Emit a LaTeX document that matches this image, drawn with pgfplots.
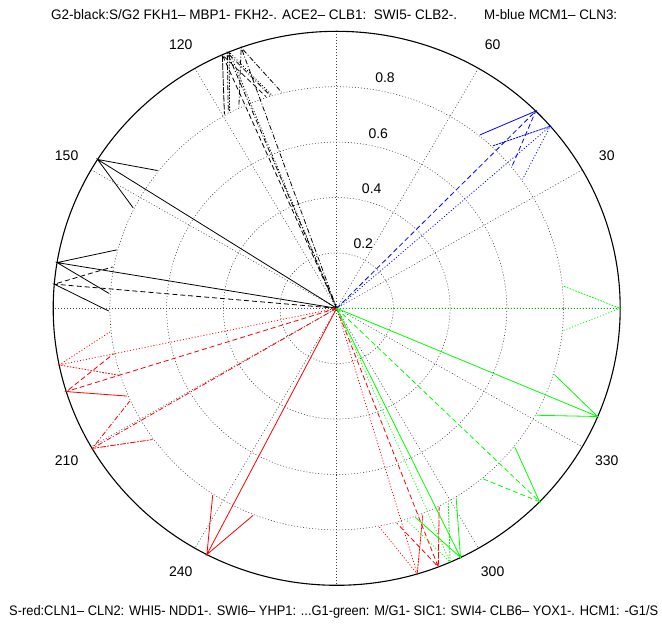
\documentclass[border=0pt]{standalone}
\usepackage{pgfplots}
\pgfplotsset{compat=1.18}
\usepackage{fontspec}
\setmainfont{Liberation Sans}
\definecolor{mgreen}{rgb}{0,1,0}
\definecolor{mblue}{rgb}{0,0,1}
\definecolor{mred}{rgb}{1,0,0}
\tikzset{
  sol/.style={line width=0.8pt},
  dsh/.style={line width=0.8pt,dash pattern=on 5pt off 3pt},
  dot/.style={line width=0.8pt,dash pattern=on 1pt off 2pt},
  dsd/.style={line width=0.8pt,dash pattern=on 5pt off 2pt on 1pt off 2pt},
  grd/.style={black!75,line width=0.55pt,dash pattern=on 1pt off 2pt},
  lbl/.style={font=\fontsize{14}{14}\selectfont,inner sep=0pt}
}
\begin{document}
\begin{tikzpicture}[x=1pt,y=1pt]
\useasboundingbox (0,0) rectangle (662,624);
\begin{axis}[at={(53.2pt,38.7pt)},anchor=south west,scale only axis,
  width=567pt,height=554pt,xmin=-1,xmax=1,ymin=-1,ymax=1,hide axis,clip=false]
% grid
\draw[grd] (axis cs:0,0) ellipse [x radius=0.2,y radius=0.2];
\draw[grd] (axis cs:0,0) ellipse [x radius=0.4,y radius=0.4];
\draw[grd] (axis cs:0,0) ellipse [x radius=0.6,y radius=0.6];
\draw[grd] (axis cs:0,0) ellipse [x radius=0.8,y radius=0.8];
\draw[grd] (axis cs:0.8660,0.5) -- (axis cs:-0.8660,-0.5);
\draw[grd] (axis cs:0.5,0.8660) -- (axis cs:-0.5,-0.8660);
\draw[grd] (axis cs:0,1) -- (axis cs:0,-1);
\draw[grd] (axis cs:-0.5,0.8660) -- (axis cs:0.5,-0.8660);
\draw[grd] (axis cs:-0.8660,0.5) -- (axis cs:0.8660,-0.5);
\draw[grd] (axis cs:1,0) -- (axis cs:-1,0);
\draw[black,line width=1.1pt] (axis cs:0,0) ellipse [x radius=1,y radius=1];
% labels
\node[lbl] at (axis cs:0.9526,0.55) {30};
\node[lbl] at (axis cs:0.55,0.9526) {60};
\node[lbl] at (axis cs:-0.55,0.9526) {120};
\node[lbl] at (axis cs:-0.9526,0.55) {150};
\node[lbl] at (axis cs:-0.9526,-0.55) {210};
\node[lbl] at (axis cs:-0.55,-0.9526) {240};
\node[lbl] at (axis cs:0.55,-0.9526) {300};
\node[lbl] at (axis cs:0.9526,-0.55) {330};
\node[lbl] at (axis cs:0.0938,0.2321) {0.2};
\node[lbl] at (axis cs:0.1235,0.4332) {0.4};
\node[lbl] at (axis cs:0.1467,0.6318) {0.6};
\node[lbl] at (axis cs:0.1704,0.8314) {0.8};
% black (G2)
\addplot[black,dsh] coordinates {(0,0) (-0.4035,0.9150) (-0.3960,0.6997) (-0.4035,0.9150) (-0.2496,0.7643)};
\addplot[black,dsd] coordinates {(0,0) (-0.3859,0.9225) (-0.3825,0.7071) (-0.3859,0.9225) (-0.2349,0.7689)};
\addplot[black,dot] coordinates {(0,0) (-0.3795,0.9252) (-0.3776,0.7098) (-0.3795,0.9252) (-0.2296,0.7706)};
\addplot[black,dsd] coordinates {(0,0) (-0.3371,0.9415) (-0.3450,0.7262) (-0.3371,0.9415) (-0.1944,0.7802)};
\addplot[black,sol] coordinates {(0,0) (-0.8434,0.5373) (-0.7177,0.3623) (-0.8434,0.5373) (-0.6317,0.4973)};
\addplot[black,sol] coordinates {(0,0) (-0.9863,0.1650) (-0.8022,0.0531) (-0.9863,0.1650) (-0.7758,0.2109)};
\addplot[black,dsh] coordinates {(0,0) (-0.9962,0.0872) (-0.8040,-0.0099) (-0.9962,0.0872) (-0.7900,0.1495)};
% blue (M)
\addplot[mblue,dsh] coordinates {(0,0) (0.7022,0.7120) (0.5048,0.6258) (0.7022,0.7120) (0.6188,0.5134)};
\addplot[mblue,dot] coordinates {(0,0) (0.7536,0.6574) (0.5503,0.5862) (0.7536,0.6574) (0.6555,0.4656)};
% red (S)
\addplot[mred,dot] coordinates {(0,0) (-0.9789,-0.2045) (-0.7667,-0.2419) (-0.9789,-0.2045) (-0.7995,-0.0853)};
\addplot[mred,dsh] coordinates {(0,0) (-0.9537,-0.3007) (-0.7389,-0.3169) (-0.9537,-0.3007) (-0.7871,-0.1643)};
\addplot[mred,dsd] coordinates {(0,0) (-0.8625,-0.5060) (-0.6495,-0.4738) (-0.8625,-0.5060) (-0.7305,-0.3358)};
\addplot[mred,sol] coordinates {(0,0) (-0.4579,-0.8890) (-0.2952,-0.7478) (-0.4579,-0.8890) (-0.4374,-0.6746)};
\addplot[mred,dot] coordinates {(0,0) (0.2840,-0.9588) (0.3039,-0.7443) (0.2840,-0.9588) (0.1505,-0.7897)};
\addplot[mred,dsh] coordinates {(0,0) (0.3584,-0.9336) (0.3614,-0.7182) (0.3584,-0.9336) (0.2120,-0.7756)};
% green (G1)
\addplot[mgreen,dot] coordinates {(0,0) (1,0) (0.8,0.08) (1,0) (0.8,-0.08)};
\addplot[mgreen,sol] coordinates {(0,0) (0.9205,-0.3907) (0.7677,-0.2390) (0.9205,-0.3907) (0.7051,-0.3862)};
\addplot[mgreen,dsh] coordinates {(0,0) (0.7157,-0.6984) (0.6285,-0.5014) (0.7157,-0.6984) (0.5167,-0.6160)};
\addplot[mgreen,dot] coordinates {(0,0) (0.4003,-0.9164) (0.3935,-0.7011) (0.4003,-0.9164) (0.2469,-0.7651)};
\addplot[mgreen,sol] coordinates {(0,0) (0.4368,-0.8996) (0.4214,-0.6847) (0.4368,-0.8996) (0.2774,-0.7546)};
\end{axis}
\node[anchor=base west,inner sep=0pt] at (51,604) {\resizebox{406pt}{10pt}{\fontsize{14}{14}\selectfont G2-black:S/G2 FKH1-- MBP1- FKH2-. ACE2-- CLB1:\ \ SWI5- CLB2-.}};
\node[anchor=base west,inner sep=0pt] at (484,604) {\resizebox{133pt}{10pt}{\fontsize{14}{14}\selectfont M-blue MCM1-- CLN3:}};
\node[anchor=base west,inner sep=0pt] at (9,8) {\resizebox{649pt}{10pt}{\fontsize{14}{14}\selectfont S-red:CLN1-- CLN2: WHI5- NDD1-. SWI6-- YHP1: ...G1-green: M/G1- SIC1: SWI4- CLB6-- YOX1-. HCM1: -G1/S}};
\end{tikzpicture}
\end{document}
